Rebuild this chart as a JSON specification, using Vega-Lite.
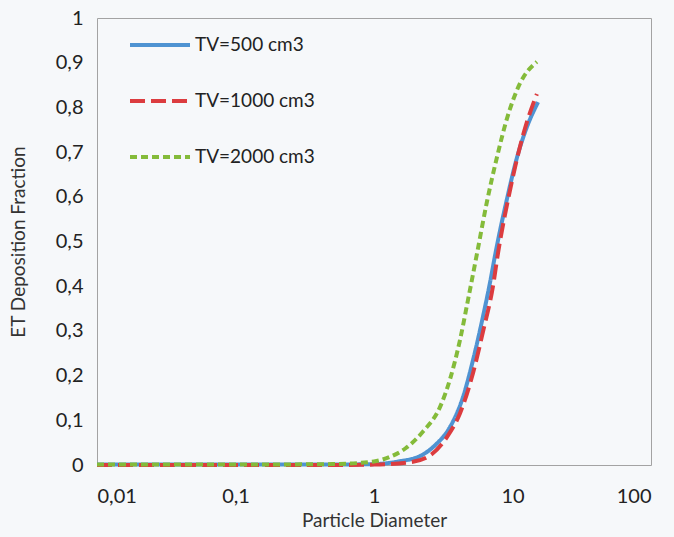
{
  "$schema": "https://vega.github.io/schema/vega-lite/v6.json",
  "width": 554,
  "height": 447,
  "autosize": "none",
  "padding": {"left": 97, "top": 18, "right": 23, "bottom": 72},
  "background": "#f6f8fa",
  "config": {
    "font": "Lato",
    "view": {"stroke": "#a3a3a3", "strokeWidth": 1},
    "axis": {"grid": false, "ticks": false, "domain": false, "labelFont": "Lato", "titleFont": "Lato", "labelColor": "#222222", "titleColor": "#333333", "labelFontWeight": "normal", "titleFontWeight": "normal"}
  },
  "data": {
    "values": [
      {"series": "TV=500 cm3", "d": 0.01, "f": 0.001},
      {"series": "TV=500 cm3", "d": 0.1, "f": 0.001},
      {"series": "TV=500 cm3", "d": 0.5, "f": 0.001},
      {"series": "TV=500 cm3", "d": 1.0, "f": 0.002},
      {"series": "TV=500 cm3", "d": 1.5, "f": 0.008},
      {"series": "TV=500 cm3", "d": 2.15, "f": 0.02},
      {"series": "TV=500 cm3", "d": 2.8, "f": 0.046},
      {"series": "TV=500 cm3", "d": 3.54, "f": 0.085},
      {"series": "TV=500 cm3", "d": 4.39, "f": 0.152},
      {"series": "TV=500 cm3", "d": 5.19, "f": 0.235},
      {"series": "TV=500 cm3", "d": 6.12, "f": 0.332},
      {"series": "TV=500 cm3", "d": 6.9, "f": 0.41},
      {"series": "TV=500 cm3", "d": 7.6, "f": 0.48},
      {"series": "TV=500 cm3", "d": 9.12, "f": 0.595},
      {"series": "TV=500 cm3", "d": 10.8, "f": 0.689},
      {"series": "TV=500 cm3", "d": 12.7, "f": 0.756},
      {"series": "TV=500 cm3", "d": 15.3, "f": 0.812},
      {"series": "TV=1000 cm3", "d": 0.01, "f": 0.0},
      {"series": "TV=1000 cm3", "d": 0.1, "f": 0.0},
      {"series": "TV=1000 cm3", "d": 0.5, "f": 0.0},
      {"series": "TV=1000 cm3", "d": 1.0, "f": 0.001},
      {"series": "TV=1000 cm3", "d": 1.8, "f": 0.006},
      {"series": "TV=1000 cm3", "d": 2.5, "f": 0.02},
      {"series": "TV=1000 cm3", "d": 3.37, "f": 0.063},
      {"series": "TV=1000 cm3", "d": 4.18, "f": 0.116},
      {"series": "TV=1000 cm3", "d": 5.19, "f": 0.206},
      {"series": "TV=1000 cm3", "d": 6.12, "f": 0.298},
      {"series": "TV=1000 cm3", "d": 7.23, "f": 0.4},
      {"series": "TV=1000 cm3", "d": 7.86, "f": 0.474},
      {"series": "TV=1000 cm3", "d": 9.6, "f": 0.615},
      {"series": "TV=1000 cm3", "d": 11.3, "f": 0.711},
      {"series": "TV=1000 cm3", "d": 12.7, "f": 0.767},
      {"series": "TV=1000 cm3", "d": 15.0, "f": 0.83},
      {"series": "TV=2000 cm3", "d": 0.01, "f": 0.001},
      {"series": "TV=2000 cm3", "d": 0.1, "f": 0.001},
      {"series": "TV=2000 cm3", "d": 0.5, "f": 0.002},
      {"series": "TV=2000 cm3", "d": 1.0, "f": 0.008},
      {"series": "TV=2000 cm3", "d": 1.3, "f": 0.018},
      {"series": "TV=2000 cm3", "d": 1.7, "f": 0.038},
      {"series": "TV=2000 cm3", "d": 2.26, "f": 0.075},
      {"series": "TV=2000 cm3", "d": 3.0, "f": 0.13},
      {"series": "TV=2000 cm3", "d": 3.54, "f": 0.192},
      {"series": "TV=2000 cm3", "d": 4.18, "f": 0.28},
      {"series": "TV=2000 cm3", "d": 4.77, "f": 0.369},
      {"series": "TV=2000 cm3", "d": 5.55, "f": 0.474},
      {"series": "TV=2000 cm3", "d": 6.55, "f": 0.59},
      {"series": "TV=2000 cm3", "d": 7.73, "f": 0.689},
      {"series": "TV=2000 cm3", "d": 9.12, "f": 0.775},
      {"series": "TV=2000 cm3", "d": 11.3, "f": 0.853},
      {"series": "TV=2000 cm3", "d": 15.0, "f": 0.902}
    ]
  },
  "mark": {"type": "line", "strokeWidth": 4, "interpolate": "monotone", "strokeCap": "butt"},
  "encoding": {
    "x": {
      "field": "d", "type": "quantitative",
      "scale": {"type": "log", "domain": [0.01, 100], "nice": false},
      "axis": {"values": [0.01, 0.1, 1, 10, 100], "format": "~g", "labelExpr": "replace(datum.label, '.', ',')", "labelFontSize": 20, "labelPadding": 21, "title": "Particle Diameter", "titleFontSize": 19, "titlePadding": 5}
    },
    "y": {
      "field": "f", "type": "quantitative",
      "scale": {"domain": [0, 1], "nice": false},
      "axis": {"values": [0, 0.1, 0.2, 0.3, 0.4, 0.5, 0.6, 0.7, 0.8, 0.9, 1], "format": ".1~f", "labelExpr": "replace(datum.label, '.', ',')", "labelFontSize": 20, "labelPadding": 14, "title": "ET Deposition Fraction", "titleFontSize": 19, "titleX": -69}
    },
    "color": {
      "field": "series", "type": "nominal", "sort": null,
      "scale": {"domain": ["TV=500 cm3", "TV=1000 cm3", "TV=2000 cm3"], "range": ["#4f93d2", "#dc3c3f", "#84bb3a"]},
      "legend": {"title": null, "orient": "none", "legendX": 31, "legendY": -5, "symbolType": "stroke", "symbolSize": 3600, "symbolStrokeWidth": 4, "labelFontSize": 19, "labelColor": "#222222", "labelOffset": 3, "rowPadding": 14}
    },
    "strokeDash": {
      "field": "series", "type": "nominal", "sort": null,
      "scale": {"domain": ["TV=500 cm3", "TV=1000 cm3", "TV=2000 cm3"], "range": [[1, 0], [15, 6], [7, 4]]},
      "legend": {"title": null, "orient": "none", "legendX": 31, "legendY": -5, "symbolType": "stroke", "symbolSize": 3600, "symbolStrokeWidth": 4, "labelFontSize": 19, "labelColor": "#222222", "labelOffset": 3, "rowPadding": 14}
    }
  }
}
